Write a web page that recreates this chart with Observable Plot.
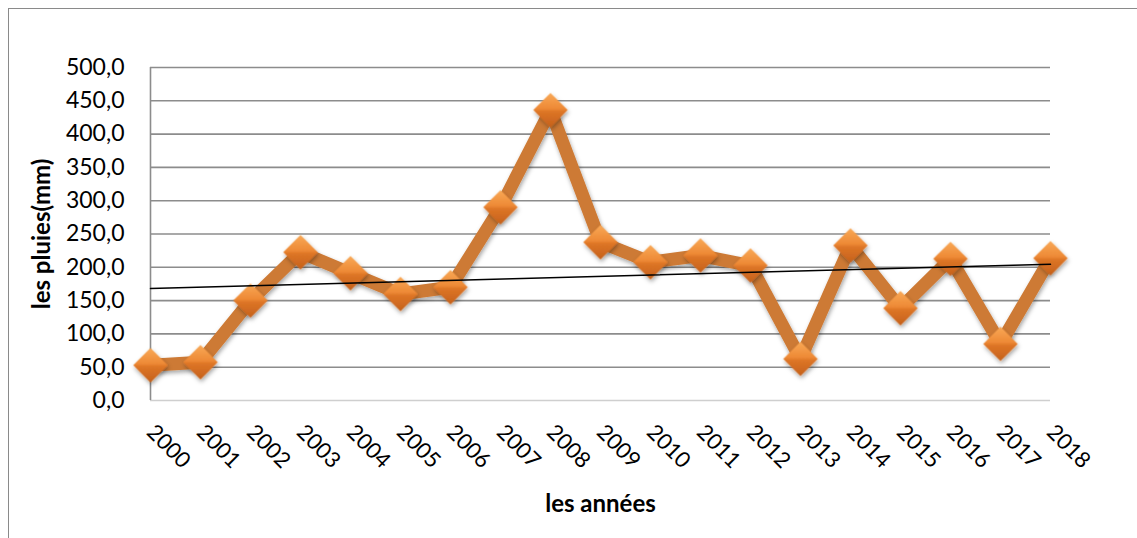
<!DOCTYPE html>
<html>
<head>
<meta charset="utf-8">
<script src="https://cdn.jsdelivr.net/npm/d3@7"></script>
<script src="https://cdn.jsdelivr.net/npm/@observablehq/plot@0.6"></script>
<style>
  html, body { margin: 0; padding: 0; background: #fff; }
  body { width: 1137px; height: 538px; overflow: hidden; position: relative; }
  #frame { position: absolute; left: 8px; top: 8px; width: 1200px; height: 600px; border: 1px solid #8a8a8a; box-sizing: border-box; }
  #chart { position: absolute; left: 0; top: 0; }
</style>
</head>
<body>
<div id="frame"></div>
<div id="chart"></div>
<script>
const years = [2000, 2001, 2002, 2003, 2004, 2005, 2006, 2007, 2008, 2009, 2010, 2011, 2012, 2013, 2014, 2015, 2016, 2017, 2018];
const rain = [53, 57.5, 150, 222.7, 191, 160, 170, 290, 436, 237.7, 207.7, 217.7, 202.7, 62.5, 232.7, 138.6, 212.7, 85, 213.7];
const yTicks = [0, 50, 100, 150, 200, 250, 300, 350, 400, 450, 500];
const xTitle = "les années";
const yTitle = "les pluies(mm)";

const data = years.map((year, i) => ({year, rain: rain[i]}));

const chart = Plot.plot({
  width: 1137,
  height: 538,
  marginLeft: 150,
  marginRight: 87,
  marginTop: 67,
  marginBottom: 138,
  style: {fontFamily: "Lato, 'Open Sans', sans-serif", fontSize: "22px", color: "#000", background: "transparent", overflow: "visible"},
  x: {type: "linear", domain: [2000, 2018]},
  y: {domain: [0, 500]},
  marks: [
    Plot.ruleY(yTicks.filter(d => d > 0), {stroke: "#8c8c8c", strokeWidth: 1.6}),
    Plot.ruleY([0], {stroke: "#cfcfcf", strokeWidth: 1.6}),
    Plot.ruleX([years[0]], {y1: 0, y2: 500, stroke: "#8c8c8c", strokeWidth: 1.6}),
    Plot.axisY({ticks: yTicks, tickSize: 0, tickPadding: 26, fontSize: 23, tickFormat: d => d.toFixed(1).replace(".", ","), label: null}),
    Plot.axisX({ticks: years, tickSize: 0, tickRotate: 45, tickPadding: 28, fontSize: 22, tickFormat: d => String(d), label: null}),
    Plot.line(data, {x: "year", y: "rain", stroke: "#CD7A35", strokeWidth: 13, strokeLinejoin: "round"}),
    Plot.dot(data, {x: "year", y: "rain", symbol: "diamond2", r: 15.5, fill: "url(#mkgrad)", stroke: "none"}),
    Plot.linearRegressionY(data, {x: "year", y: "rain", stroke: "#000", strokeWidth: 1.5, ci: 0}),
    Plot.text([yTitle], {frameAnchor: "left", textAnchor: "middle", lineAnchor: "middle", dx: -108, rotate: -90, fontWeight: "bold", fontSize: 24}),
    Plot.text([xTitle], {frameAnchor: "bottom", textAnchor: "middle", lineAnchor: "middle", dy: 104, dx: 0, fontWeight: "bold", fontSize: 24})
  ]
});

// gradient + shadow for diamond markers
const ns = "http://www.w3.org/2000/svg";
const defs = document.createElementNS(ns, "defs");
defs.innerHTML = `
  <linearGradient id="mkgrad" x1="0" y1="0" x2="0" y2="1" gradientUnits="objectBoundingBox">
    <stop offset="0" stop-color="#F9A957"/>
    <stop offset="0.45" stop-color="#EE8A36"/>
    <stop offset="0.55" stop-color="#DD7526"/>
    <stop offset="1" stop-color="#C5611C"/>
  </linearGradient>
  <filter id="shadow" x="-50%" y="-50%" width="200%" height="200%">
    <feDropShadow dx="1" dy="2.5" stdDeviation="2" flood-color="#000" flood-opacity="0.35"/>
  </filter>`;
chart.insertBefore(defs, chart.firstChild);
const dotG = chart.querySelector('g[aria-label="dot"]');
if (dotG) dotG.setAttribute("filter", "url(#shadow)");
const lineG = chart.querySelector('g[aria-label="line"]');
if (lineG) lineG.setAttribute("filter", "url(#shadow)");

document.getElementById("chart").appendChild(chart);
</script>
</body>
</html>
